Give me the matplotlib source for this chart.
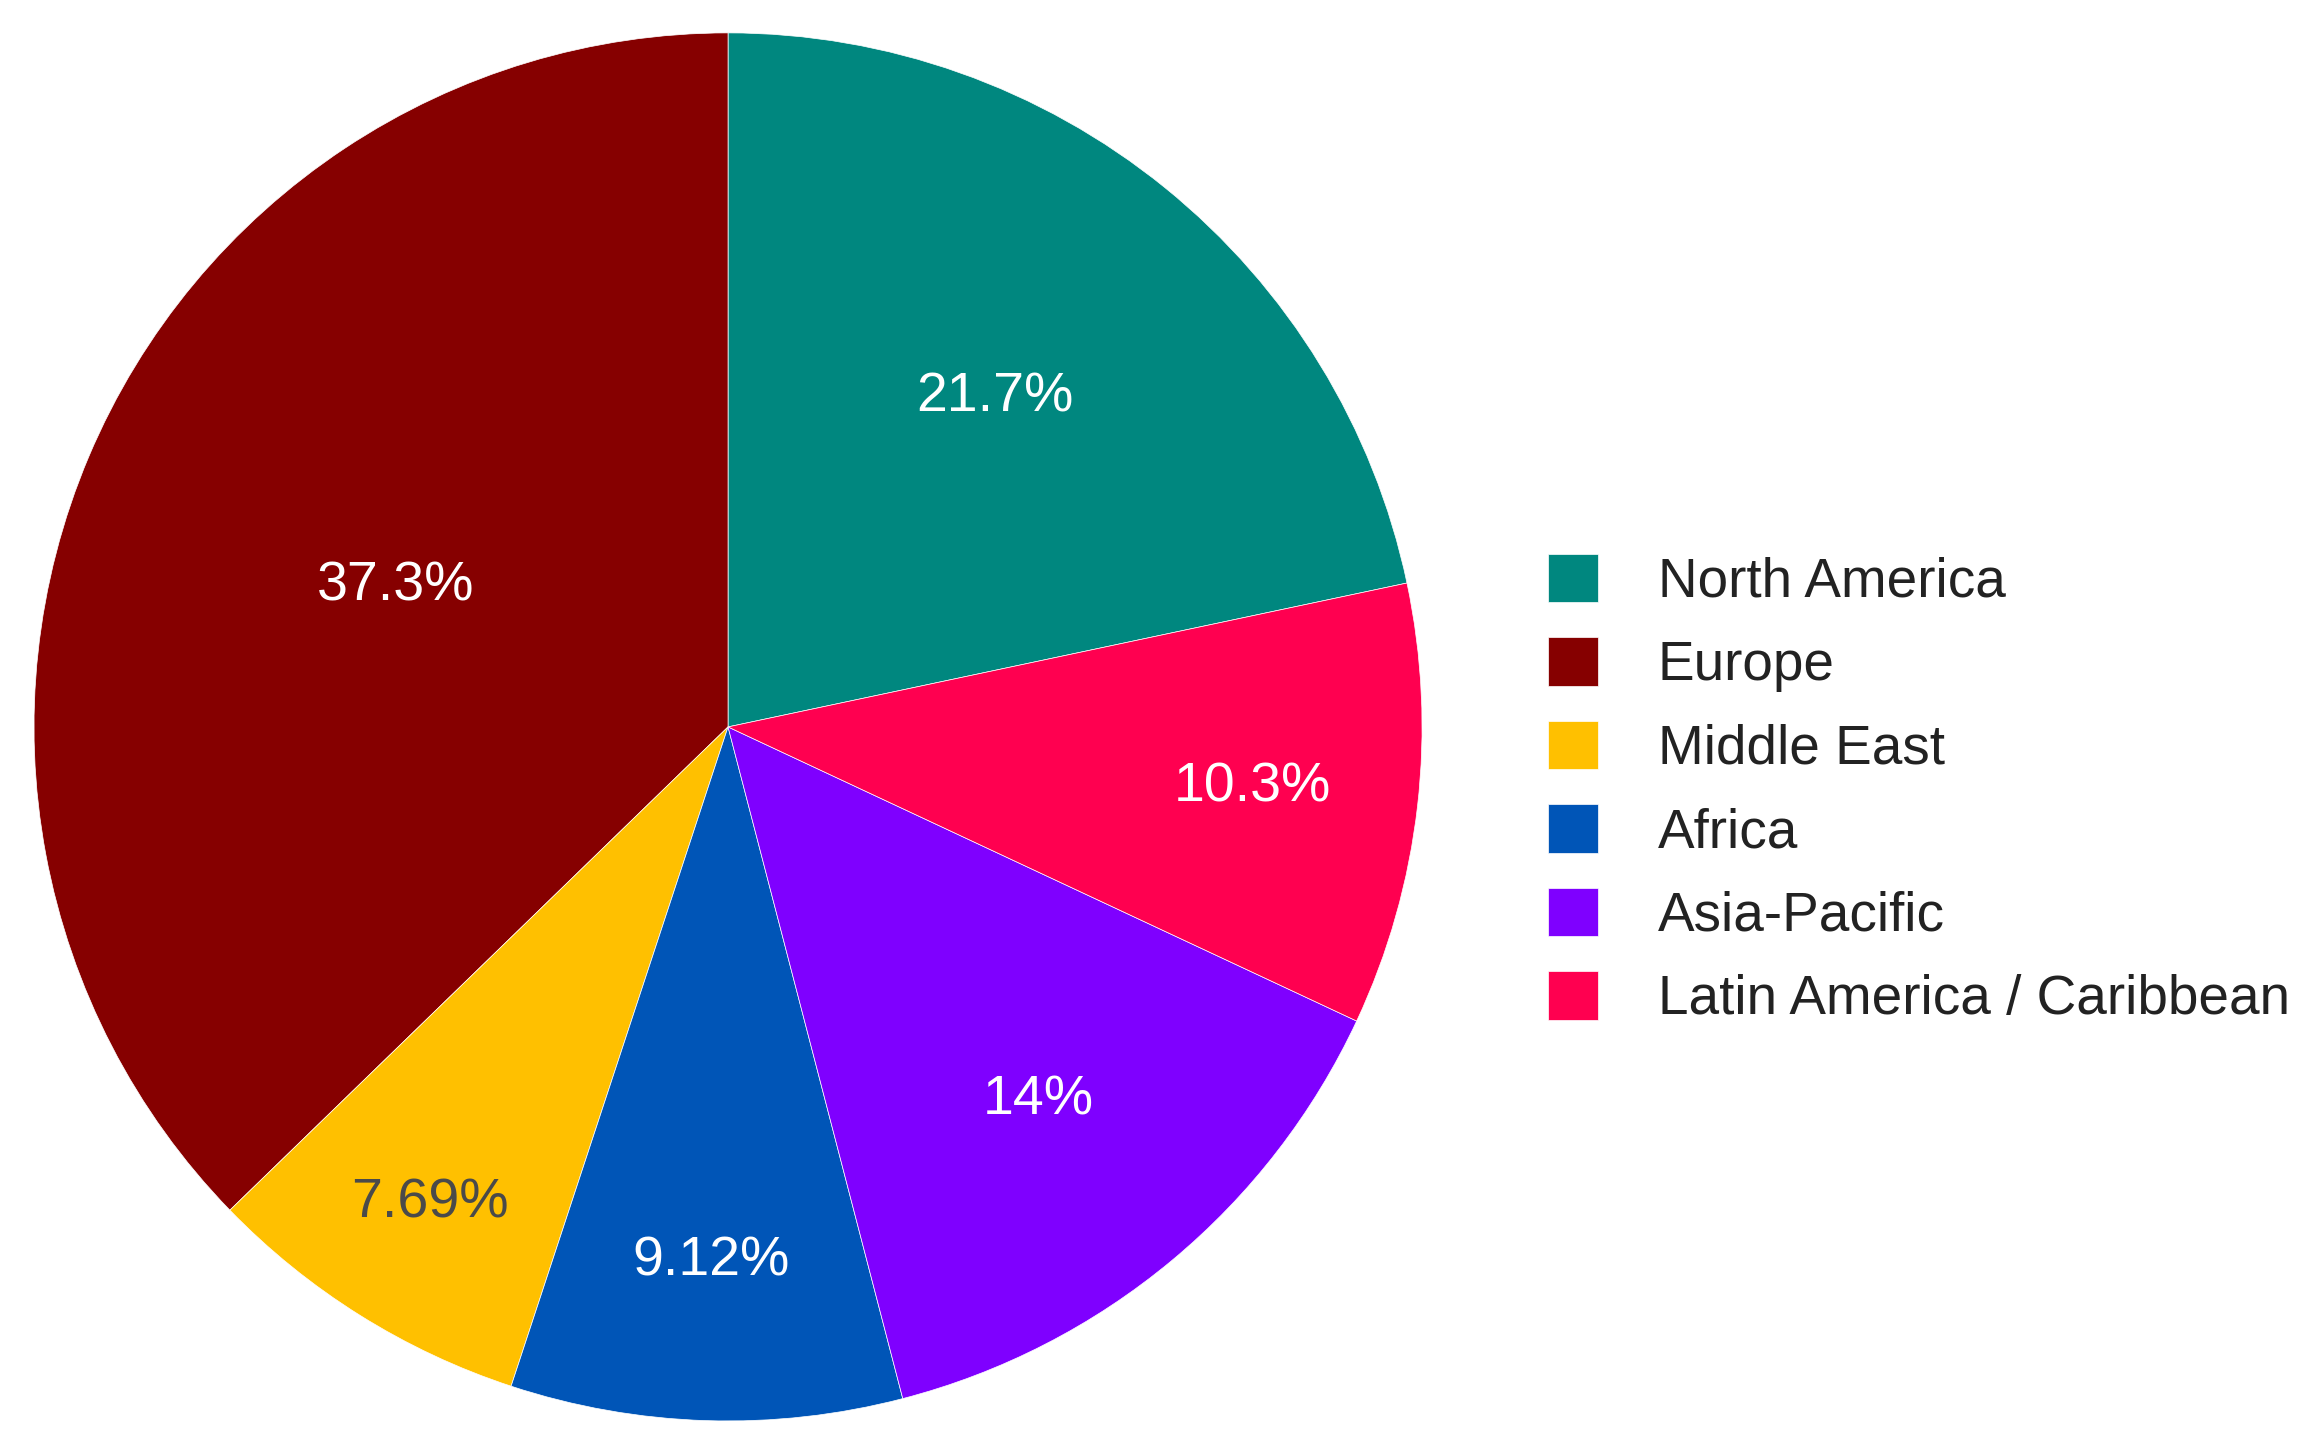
import matplotlib
matplotlib.use("Agg")
import matplotlib.pyplot as plt
import numpy as np

plt.rcParams['font.family'] = ['Liberation Sans', 'DejaVu Sans']

# Data (legend order)
regions = ['North America', 'Europe', 'Middle East', 'Africa', 'Asia-Pacific',
           'Latin America / Caribbean']
shares = [21.7, 37.3, 7.69, 9.12, 14.0, 10.3]
share_labels = ['21.7%', '37.3%', '7.69%', '9.12%', '14%', '10.3%']

# Styling
colors = ['#00877F', '#860000', '#FFC000', '#0055B7', '#7F00FF', '#FF0050']
text_colors = ['white', 'white', '#4a4a4a', 'white', 'white', 'white']
label_r = [0.61, 0.52, 0.81, 0.77, 0.70, 0.76]  # label distance from centre

fig = plt.figure(figsize=(23.05, 14.55), dpi=100)
ax = fig.add_axes([0.01475, 0.0234, 0.6022, 0.954])

# first slice ends at 12 o'clock, slices go counter-clockwise
start = 90 - shares[0] / sum(shares) * 360
wedges, _ = ax.pie(shares, colors=colors, startangle=start, counterclock=True,
                   radius=1.0, wedgeprops=dict(edgecolor='white', linewidth=0.5))

for w, lab, tc, r in zip(wedges, share_labels, text_colors, label_r):
    mid = np.radians((w.theta1 + w.theta2) / 2)
    ax.text(r * np.cos(mid), r * np.sin(mid), lab, color=tc, fontsize=40,
            ha='center', va='center')

ax.set_xlim(-1, 1)
ax.set_ylim(-1, 1)
ax.set_aspect('equal')
ax.axis('off')

fig.legend(wedges, regions, loc='center left', bbox_to_anchor=(0.6714, 0.457),
           frameon=False, fontsize=39.5, handlelength=0.91, handleheight=0.98,
           handletextpad=1.1, labelspacing=0.52, borderpad=0, borderaxespad=0,
           labelcolor='#222222')

fig.savefig('out.png', dpi=100)
